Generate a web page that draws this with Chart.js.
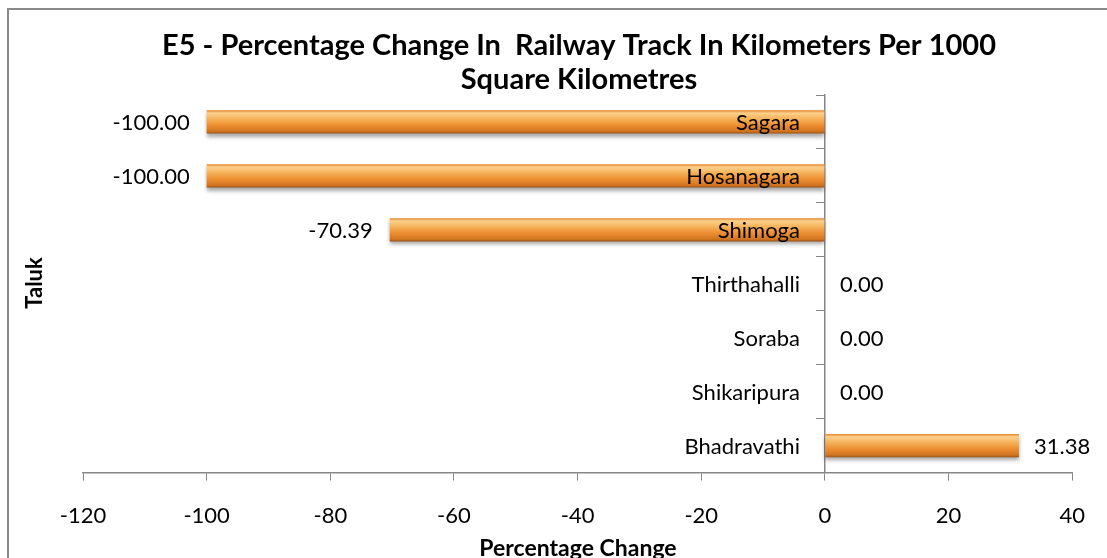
<!DOCTYPE html>
<html>
<head>
<meta charset="utf-8">
<script src="https://cdn.jsdelivr.net/npm/chart.js@4"></script>
<style>
  html, body { margin: 0; padding: 0; background: #fff; }
  #wrap { width: 1107px; height: 558px; }
</style>
</head>
<body>
<div id="wrap"><canvas id="chart1"></canvas></div>
<script>
var taluks = ["Sagara", "Hosanagara", "Shimoga", "Thirthahalli", "Soraba", "Shikaripura", "Bhadravathi"];
var pctChange = [-100.00, -100.00, -70.39, 0.00, 0.00, 0.00, 31.38];
var xMin = -120, xMax = 40, xStep = 20;
var titleLines = ["E5 - Percentage Change In  Railway Track In Kilometers Per 1000", "Square Kilometres"];
var xTitle = "Percentage Change";
var yTitle = "Taluk";

var FONT = "Lato";
var AXIS_GREY = '#868686';

// frame, titles, bar styling, category and value labels
var decor = {
    id: 'decor',
    beforeDraw: function(chart) {
        var c = chart.ctx;
        c.save();
        c.fillStyle = '#fff';
        c.fillRect(0, 0, chart.width, chart.height);
        c.strokeStyle = '#8a8a8a';
        c.lineWidth = 2;
        c.strokeRect(8, 9, chart.width + 20, chart.height + 20);
        c.restore();
    },
    beforeDatasetsDraw: function(chart) {
        var meta = chart.getDatasetMeta(0);
        meta.data.forEach(function(bar) {
            var h = bar.height;
            var g = chart.ctx.createLinearGradient(0, bar.y - h / 2, 0, bar.y + h / 2);
            g.addColorStop(0, '#e5862a');
            g.addColorStop(0.12, '#fcd18e');
            g.addColorStop(0.35, '#f6b45c');
            g.addColorStop(0.65, '#ec8d30');
            g.addColorStop(0.9, '#d27520');
            g.addColorStop(1, '#9c5417');
            bar.options.backgroundColor = g;
        });
        chart.ctx.save();
        chart.ctx.shadowColor = 'rgba(0,0,0,0.35)';
        chart.ctx.shadowBlur = 4;
        chart.ctx.shadowOffsetY = 3;
    },
    afterDatasetsDraw: function(chart) {
        var c = chart.ctx;
        c.restore();
        var meta = chart.getDatasetMeta(0);
        var x0 = chart.scales.x.getPixelForValue(0);
        c.save();
        c.font = '22px ' + FONT;
        c.fillStyle = '#000';
        c.textBaseline = 'middle';
        meta.data.forEach(function(bar, i) {
            var v = pctChange[i];
            var y = chart.scales.y.getPixelForValue(i);
            c.textAlign = 'right';
            c.fillText(taluks[i], x0 - 25, y + 1);
            if (v < 0) {
                c.fillText(v.toFixed(2), bar.x - 17, y + 1);
            } else {
                c.textAlign = 'left';
                c.fillText(v.toFixed(2), bar.x + 15, y + 1);
            }
        });
        c.restore();
    },
    afterDraw: function(chart) {
        var c = chart.ctx;
        c.save();
        c.fillStyle = '#000';
        c.textAlign = 'center';
        c.textBaseline = 'middle';
        c.font = 'bold 29px ' + FONT;
        c.fillText(titleLines[0], 579, 46);
        c.fillText(titleLines[1], 579, 80);
        c.font = 'bold 23px ' + FONT;
        c.fillText(xTitle, 578, 549);
        c.translate(35, 283);
        c.rotate(-Math.PI / 2);
        c.font = 'bold 22px ' + FONT;
        c.fillText(yTitle, 0, 0);
        c.restore();
    }
};

var ctx = document.getElementById('chart1').getContext('2d');
var chart = new Chart(ctx, {
    type: 'bar',
    data: {
        labels: taluks,
        datasets: [{
            data: pctChange,
            backgroundColor: function() { return '#ec8d30'; },
            borderWidth: 0,
            barPercentage: 0.43,
            categoryPercentage: 1
        }]
    },
    options: {
        indexAxis: 'y',
        responsive: true,
        maintainAspectRatio: false,
        animation: false,
        layout: { padding: { left: 83, right: 22, top: 95, bottom: 7 } },
        plugins: {
            legend: { display: false },
            tooltip: { enabled: false }
        },
        scales: {
            x: {
                min: xMin,
                max: xMax,
                ticks: {
                    stepSize: xStep,
                    color: '#000',
                    padding: 22,
                    font: { family: FONT, size: 22 }
                },
                grid: { drawOnChartArea: false, tickLength: 8, color: AXIS_GREY },
                border: { color: AXIS_GREY, width: 1.5 }
            },
            y: {
                position: { x: 0 },
                ticks: {
                    color: 'rgba(0,0,0,0)',
                    font: { family: FONT, size: 22 }
                },
                grid: { drawOnChartArea: false, tickLength: 8, color: AXIS_GREY, offset: true },
                border: { color: AXIS_GREY, width: 1.5 }
            }
        }
    },
    plugins: [decor]
});
</script>
</body>
</html>
